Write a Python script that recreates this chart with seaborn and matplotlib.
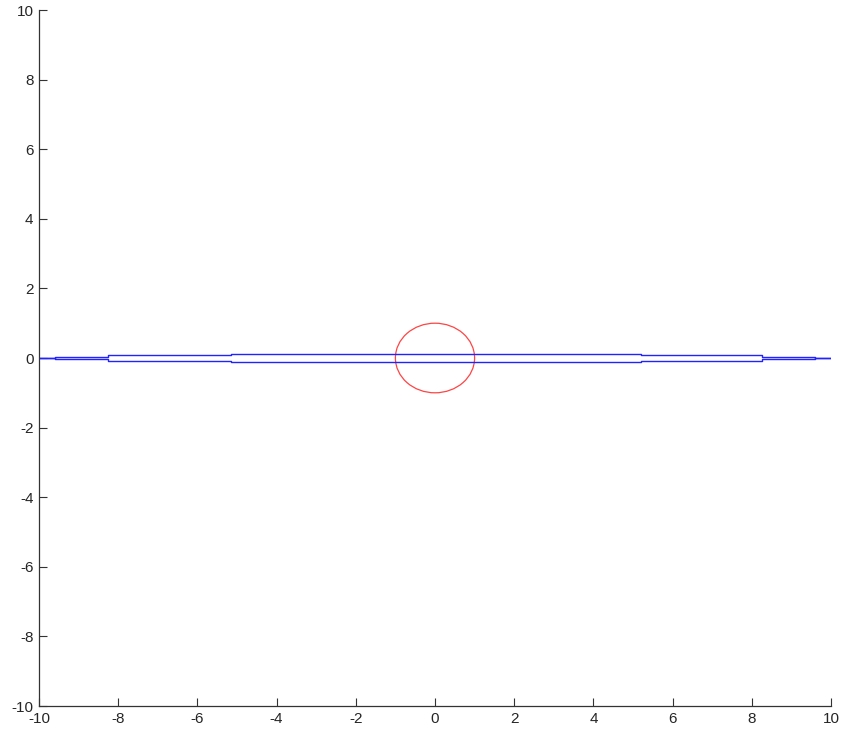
import numpy as np
import pandas as pd
import matplotlib
matplotlib.use("Agg")
import matplotlib.pyplot as plt
import seaborn as sns
from matplotlib.patches import Circle

# Data: stepped thin shape (breakpoints along x and half-thickness per segment)
step_x = [-10, -9.6, -8.25, -5.15, 5.2, 8.25, 9.6, 10]
half_thickness = [0.0, 0.042, 0.085, 0.115, 0.085, 0.042, 0.0]

# Circle
circle_center = (0.0, 0.0)
circle_radius = 1.0

ticks = [-10, -8, -6, -4, -2, 0, 2, 4, 6, 8, 10]

# Build outline (upper edge left->right, lower edge right->left)
upper_x, upper_y = [], []
for i, h in enumerate(half_thickness):
    upper_x += [step_x[i], step_x[i + 1]]
    upper_y += [h, h]
lower_x = upper_x[::-1]
lower_y = [-v for v in upper_y[::-1]]
outline = pd.DataFrame({"x": upper_x + lower_x + [upper_x[0]],
                        "y": upper_y + lower_y + [upper_y[0]]})

sns.set_theme(style="ticks")
plt.rcParams['font.family'] = ['Liberation Sans', 'DejaVu Sans']

fig = plt.figure(figsize=(8.43, 7.3), dpi=100)
ax = fig.add_axes([39 / 843, 24 / 730, (831 - 39) / 843, (720 - 24) / 730])

sns.lineplot(data=outline, x="x", y="y", sort=False, estimator=None,
             color="#2222ff", linewidth=1.0, ax=ax)
ax.add_patch(Circle(circle_center, circle_radius, fill=False,
                    edgecolor="#ff4444", linewidth=0.9))

ax.set_xlim(-10, 10)
ax.set_ylim(-10, 10)
ax.set_xticks(ticks)
ax.set_yticks(ticks)
ax.set_xticklabels([str(t) for t in ticks])
ax.set_yticklabels([str(t) for t in ticks])
ax.set_xlabel("")
ax.set_ylabel("")
ax.tick_params(direction="in", length=6, width=0.8, colors="#333333",
               labelsize=11, labelcolor="#262626", pad=4)
for s in ["top", "right"]:
    ax.spines[s].set_visible(False)
for s in ["left", "bottom"]:
    ax.spines[s].set_color("#333333")
    ax.spines[s].set_linewidth(0.9)

fig.savefig("out.png", dpi=100)
